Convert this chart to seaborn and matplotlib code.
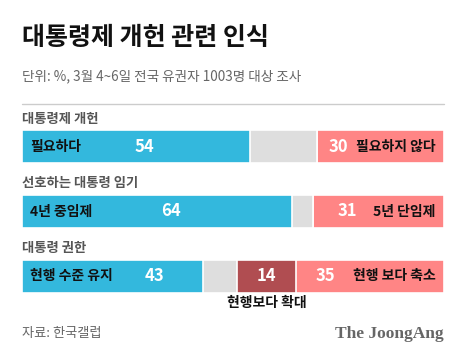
import numpy as np
import pandas as pd
import matplotlib
matplotlib.use("Agg")
import matplotlib.pyplot as plt
import seaborn as sns

sns.set_theme(style="white")
plt.rcParams["font.family"] = ["Noto Sans CJK KR", "DejaVu Sans"]
plt.rcParams["axes.unicode_minus"] = False

# 데이터
GROUPS = ["대통령제 개헌", "선호하는 대통령 임기", "대통령 권한"]
SEGMENTS = ["yes", "gap", "more", "no"]
YES = [54, 64, 43]
GAP = [16, 5, 8]
MORE = [0, 0, 14]
NO = [30, 31, 35]
YES_LABELS = ["필요하다", "4년 중임제", "현행 수준 유지"]
NO_LABELS = ["필요하지 않다", "5년 단임제", "현행 보다 축소"]
MORE_LABEL = "현행보다 확대"

COLORS = {"yes": "#33B8DD", "gap": "#DEDEDE", "more": "#B04D51", "no": "#FF8585"}

# 숫자 라벨 위치 (% 축 기준)
YES_NUM_X = [29.1, 35.3, 31.3]
NO_NUM_X = [74.9, 77.0, 72.0]

W, H = 450, 357
fig = plt.figure(figsize=(W / 100, H / 100), dpi=100)

# 배경(텍스트용) 축 — 픽셀 좌표
bg = fig.add_axes([0, 0, 1, 1])
bg.set_xlim(0, W)
bg.set_ylim(H, 0)
bg.axis("off")

# 막대 축
x0, x1 = 22, 444
ytop, ybot = 130.3, 292.7
ax = fig.add_axes([x0 / W, 1 - ybot / H, (x1 - x0) / W, (ybot - ytop) / H])

df = pd.DataFrame({"group": GROUPS, "yes": YES, "gap": GAP, "more": MORE, "no": NO})
cum = df[SEGMENTS].cumsum(axis=1)

# 누적 막대: 뒤 구간부터 겹쳐 그리기
for seg in reversed(SEGMENTS):
    sns.barplot(x=cum[seg], y=df["group"], orient="h", color=COLORS[seg],
                width=0.5, edgecolor="white", linewidth=1.2, saturation=1, ax=ax)

ax.set_xlim(0, 100)
ax.set_ylim(2.25, -0.25)
ax.axis("off")

# 막대 안 텍스트
for i in range(len(GROUPS)):
    ax.text(2, i, YES_LABELS[i], ha="left", va="center", fontsize=10, fontweight="bold", color="#111111")
    ax.text(YES_NUM_X[i], i, str(YES[i]), ha="center", va="center", fontsize=12, fontweight="bold", color="white")
    ax.text(NO_NUM_X[i], i, str(NO[i]), ha="center", va="center", fontsize=12, fontweight="bold", color="white")
    ax.text(98, i, NO_LABELS[i], ha="right", va="center", fontsize=10, fontweight="bold", color="#111111")
    if MORE[i]:
        mid = YES[i] + GAP[i] + MORE[i] / 2
        ax.text(mid, i, str(MORE[i]), ha="center", va="center", fontsize=12, fontweight="bold", color="white")
        ax.text(mid, i + 0.41, MORE_LABEL, ha="center", va="center", fontsize=10, fontweight="bold", color="#111111")

# 제목/부제/구분선
bg.text(22, 38, "대통령제 개헌 관련 인식", ha="left", va="center", fontsize=18, fontweight=900, color="#111111")
bg.text(22, 76, "단위: %, 3월 4~6일 전국 유권자 1003명 대상 조사", ha="left", va="center", fontsize=9.8, color="#666666")
bg.plot([22, 444], [104, 104], color="#CCCCCC", lw=1)

# 그룹 제목
for yc, g in zip([118.5, 183, 248], GROUPS):
    bg.text(22, yc, g, ha="left", va="center", fontsize=9.6, fontweight="bold", color="#555555")

# 출처
bg.text(22, 334, "자료: 한국갤럽", ha="left", va="center", fontsize=9.5, color="#666666")
bg.text(444, 334, "The JoongAng", ha="right", va="center", fontsize=12.5, fontweight="bold",
        family="Liberation Serif", color="#666666")

fig.savefig("out.png", dpi=100)
